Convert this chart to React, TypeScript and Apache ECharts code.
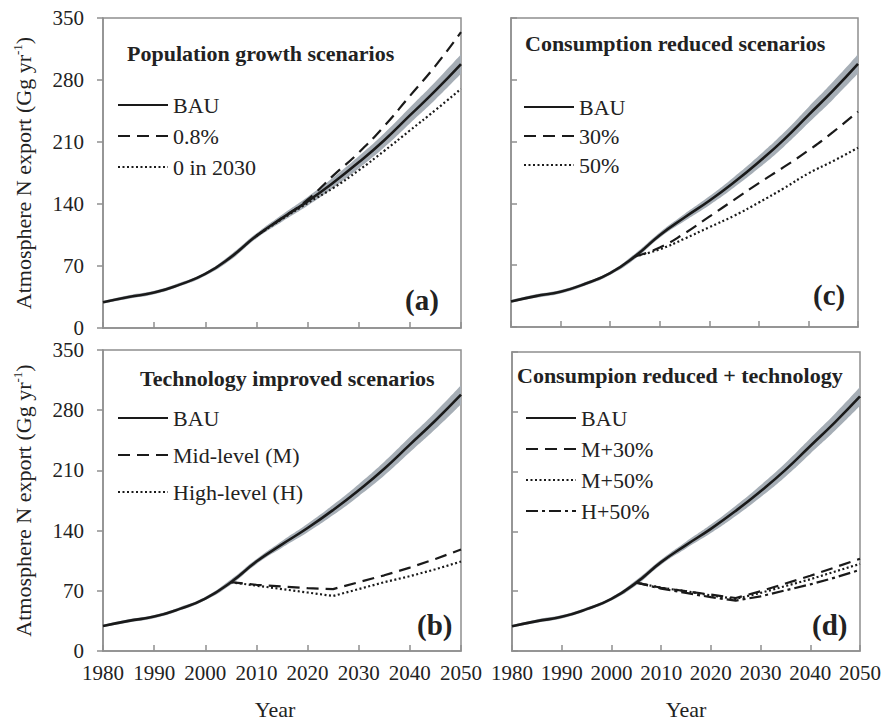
import React, { useEffect, useRef } from 'react';
import * as echarts from 'echarts';

const FONT = '"Liberation Serif", "Times New Roman", serif';
const GRAY = '#8f8f8f';
const INK = '#1a1a1a';
const BAND = '#a6aeb6';

// category axis (years)
const yearCats: string[] = Array.from({ length: 71 }, (_, i) => String(1980 + i));

// BAU and its uncertainty band
const bauYears = [1980, 1985, 1990, 1995, 2000, 2005, 2010, 2015, 2020, 2025, 2030, 2035, 2040, 2045, 2050];
const bau = [29, 35, 40, 49, 61, 80, 104, 124, 143, 164, 187, 212, 240, 268, 298];
const bauLow = [27.5, 33, 38, 47, 59, 77, 101, 120, 138, 158, 180, 204, 231, 258, 287];
const bauHigh = [30.5, 37, 42, 51, 63, 83, 107, 128, 148, 170, 194, 220, 249, 278, 309];

// (a) population growth scenarios
const popYears = [2010, 2015, 2020, 2025, 2030, 2035, 2040, 2045, 2050];
const pop08 = [104, 124, 145, 172, 198, 228, 262, 296, 334];
const pop0in2030 = [104, 123, 141, 158, 178, 200, 223, 246, 270];

// scenarios starting in 2005
const scenYears = [2005, 2010, 2015, 2020, 2025, 2030, 2035, 2040, 2045, 2050];
// (c) consumption reduced
const cons30 = [80, 90, 106, 125, 144, 163, 181, 200, 221, 244];
const cons50 = [80, 88, 100, 113, 126, 141, 157, 174, 188, 203];
// (b) technology improved
const techM = [80, 77, 75, 73, 72, 80, 88, 97, 107, 118];
const techH = [80, 76, 72, 68, 64, 72, 80, 87, 95, 104];
// (d) consumption reduced + technology
const m30 = [80, 74, 70, 66, 62, 70, 79, 88, 98, 108];
const m50 = [80, 74, 70, 65, 61, 68, 76, 84, 93, 102];
const h50 = [80, 73, 68, 63, 59, 64, 71, 78, 86, 95];

const yTickLabels = [0, 70, 140, 210, 280, 350];

const panelTitles = ['Population growth scenarios', 'Consumption reduced scenarios', 'Technology improved scenarios', 'Consumpion reduced + technology'];
const panelLetters = ['(a)', '(c)', '(b)', '(d)'];

const DASH = [12, 7];
const DOT = [2, 2.5];
const DASHDOT = [12, 4, 3, 4];

function pairs(xs: number[], ys: number[]) {
  return xs.map((x, i) => [String(x), ys[i]]);
}

function line(name: string, gi: number, xs: number[], ys: number[], dash: any, width: number, smooth: boolean | number) {
  return {
    type: 'line',
    name,
    xAxisIndex: gi,
    yAxisIndex: gi,
    data: pairs(xs, ys),
    symbol: 'none',
    smooth,
    lineStyle: { color: INK, width, type: dash },
    itemStyle: { color: INK },
    z: 6,
  };
}

export default function App() {
  const ref = useRef<HTMLDivElement>(null);
  useEffect(() => {
    if (!ref.current) return;
    const chart = echarts.init(ref.current, undefined, { renderer: 'svg' });

    const grids = [
      { left: 103, top: 18, width: 358, height: 310 },
      { left: 511, top: 18, width: 347, height: 309 },
      { left: 103, top: 350, width: 358, height: 301 },
      { left: 512, top: 352, width: 348, height: 299 },
    ];

    const xAxis = grids.map((_, gi) => ({
      type: 'category',
      gridIndex: gi,
      data: yearCats,
      boundaryGap: false,
      axisLine: { lineStyle: { color: GRAY, width: 1.5 } },
      axisTick: { inside: true, length: 6, interval: 9, lineStyle: { color: GRAY, width: 1.5 } },
      axisLabel: {
        show: gi >= 2,
        interval: 9,
        fontFamily: FONT,
        fontSize: 21,
        color: '#222',
        margin: 11,
      },
      name: gi >= 2 ? 'Year' : '',
      nameLocation: 'middle',
      nameGap: 47,
      nameTextStyle: { fontFamily: FONT, fontSize: 22, color: '#222', padding: gi === 2 ? [0, 14, 0, 0] : 0 },
      splitLine: { show: false },
      z: 3,
    }));

    const left = (gi: number) => gi === 0 || gi === 2;
    const yAxis = grids.map((_, gi) => ({
      type: 'value',
      gridIndex: gi,
      min: 0,
      max: 350,
      interval: 70,
      axisLine: { show: true, lineStyle: { color: GRAY, width: 1.5 } },
      axisTick: { show: true, inside: !left(gi), length: 6, lineStyle: { color: GRAY, width: 1.5 } },
      axisLabel: {
        show: left(gi),
        fontFamily: FONT,
        fontSize: 21,
        color: '#222',
        margin: 19,
        formatter: (v: number) => (yTickLabels.includes(v) ? String(v) : ''),
      },
      splitLine: { show: false },
      name: left(gi) ? '{n|Atmosphere N export (Gg yr}{s|-1}{n|)}' : '',
      nameLocation: 'middle',
      nameRotate: 90,
      nameGap: 68,
      nameTextStyle: {
        fontFamily: FONT,
        color: '#222',
        rich: {
          n: { fontFamily: FONT, fontSize: 22, color: '#222', lineHeight: 24 },
          s: { fontFamily: FONT, fontSize: 13, color: '#222', verticalAlign: 'top', lineHeight: 14 },
        },
      },
      z: 3,
    }));

    const series: any[] = [];
    grids.forEach((_, gi) => {
      series.push({
        type: 'line',
        name: '_low' + gi,
        xAxisIndex: gi,
        yAxisIndex: gi,
        stack: 'band' + gi,
        data: pairs(bauYears, bauLow),
        symbol: 'none',
        smooth: true,
        silent: true,
        lineStyle: { width: 0, opacity: 0 },
        z: 1,
      });
      series.push({
        type: 'line',
        name: '_band' + gi,
        xAxisIndex: gi,
        yAxisIndex: gi,
        stack: 'band' + gi,
        data: pairs(bauYears, bauHigh.map((h, i) => h - bauLow[i])),
        symbol: 'none',
        smooth: true,
        silent: true,
        lineStyle: { width: 0, opacity: 0 },
        areaStyle: { color: BAND, opacity: 1 },
        z: 1,
      });
    });

    series.push(line('0.8%', 0, popYears, pop08, DASH, 2.2, true));
    series.push(line('0 in 2030', 0, popYears, pop0in2030, DOT, 2.2, true));
    series.push(line('30%', 1, scenYears, cons30, DASH, 2.2, true));
    series.push(line('50%', 1, scenYears, cons50, DOT, 2.2, true));
    series.push(line('Mid-level (M)', 2, scenYears, techM, DASH, 2.2, false));
    series.push(line('High-level (H)', 2, scenYears, techH, DOT, 2.2, false));
    series.push(line('M+30%', 3, scenYears, m30, DASH, 2.2, false));
    series.push(line('M+50%', 3, scenYears, m50, DOT, 2.2, false));
    series.push(line('H+50%', 3, scenYears, h50, DASHDOT, 2.2, false));
    grids.forEach((_, gi) => {
      const s: any = line('BAU', gi, bauYears, bau, 'solid', 2.6, true);
      s.z = 7;
      series.push(s);
    });

    const legendBase = {
      orient: 'vertical',
      padding: 0,
      itemWidth: 50,
      itemHeight: 14,
      selectedMode: false,
      itemStyle: { opacity: 0, color: 'transparent', borderWidth: 0 },
      textStyle: { fontFamily: FONT, fontSize: 22, color: '#222' },
    };

    const legend = [
      { ...legendBase, left: 117, top: 94, itemGap: 9, data: ['BAU', '0.8%', '0 in 2030'] },
      { ...legendBase, left: 523, top: 96, itemGap: 7, data: ['BAU', '30%', '50%'] },
      { ...legendBase, left: 117, top: 407, itemGap: 15, data: ['BAU', 'Mid-level (M)', 'High-level (H)'] },
      { ...legendBase, left: 525, top: 407, itemGap: 9, data: ['BAU', 'M+30%', 'M+50%', 'H+50%'] },
    ];

    const titlePos = [
      { left: 127, top: 42 },
      { left: 525, top: 32 },
      { left: 140, top: 367 },
      { left: 517, top: 364 },
    ];
    const letterPos = [
      { left: 405, top: 285 },
      { left: 813, top: 280 },
      { left: 417, top: 610 },
      { left: 812, top: 610 },
    ];
    const title: any[] = [];
    panelTitles.forEach((t, i) => {
      title.push({
        text: t,
        ...titlePos[i],
        padding: 0,
        textStyle: { fontFamily: FONT, fontSize: 22, fontWeight: 'bold', color: '#222' },
      });
    });
    panelLetters.forEach((t, i) => {
      title.push({
        text: t,
        ...letterPos[i],
        padding: 0,
        textStyle: { fontFamily: FONT, fontSize: 29, fontWeight: 'bold', color: '#222' },
      });
    });

    chart.setOption({
      animation: false,
      backgroundColor: '#ffffff',
      textStyle: { fontFamily: FONT },
      title,
      legend,
      grid: grids.map((g) => ({ ...g, show: true, borderColor: GRAY, borderWidth: 1.5, backgroundColor: 'transparent' })),
      xAxis,
      yAxis,
      series,
    });

    return () => chart.dispose();
  }, []);

  return <div ref={ref} style={{ position: 'fixed', left: 0, top: 0, width: 884, height: 722 }} />;
}
